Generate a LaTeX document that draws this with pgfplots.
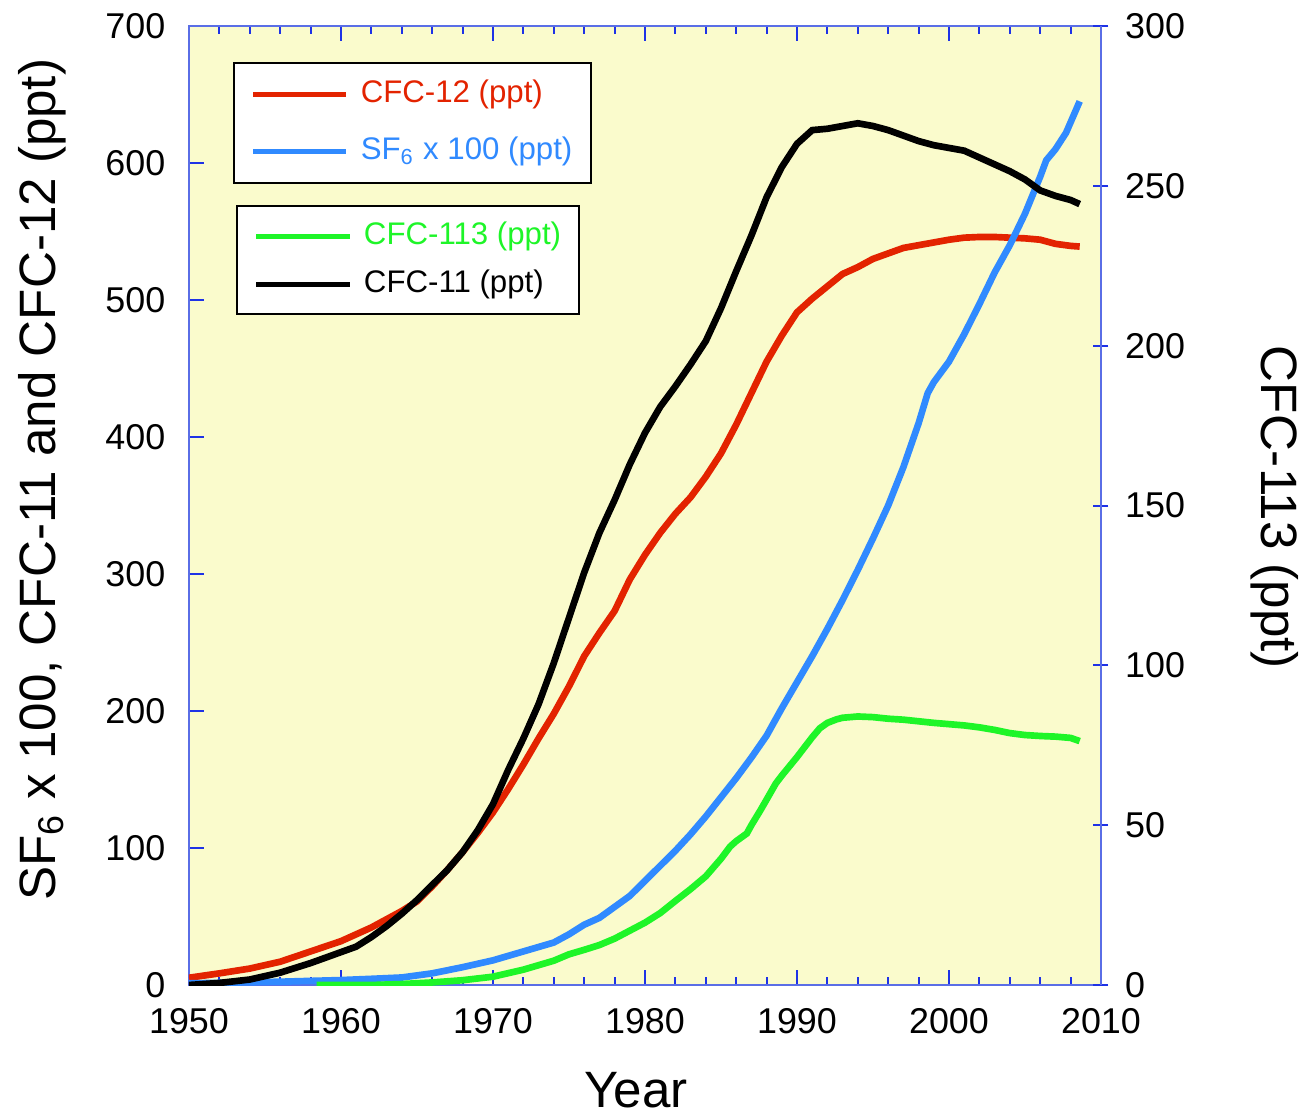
\documentclass[border=0pt]{standalone}
\usepackage{fontspec}
\setmainfont{Liberation Sans}
\usepackage{pgfplots}
\pgfplotsset{compat=1.18}
\definecolor{bgy}{RGB}{250,251,204}
\definecolor{cred}{RGB}{227,35,0}
\definecolor{cblue}{RGB}{48,138,255}
\definecolor{cgreen}{RGB}{30,245,40}
\definecolor{tickblue}{RGB}{30,50,230}
\definecolor{spineblue}{RGB}{90,110,230}
\pgfplotsset{
  common/.style={
    scale only axis, width=273.6bp, height=287.7bp,
    xmin=1950, xmax=2010,
    tick align=inside,
    major tick length=4.5bp, minor tick length=2.4bp,
    tick style={draw=tickblue, line width=0.6bp},
    axis line style={draw=spineblue, line width=0.8bp},
    tick label style={font=\fontsize{10.8}{12}\selectfont},
    /pgf/number format/assume math mode=true,
    label style={font=\fontsize{15.4}{17}\selectfont},
    legend image code/.code={\draw[##1, line width=1.6bp] (0bp,0bp) -- (28bp,0bp);},
  }
}
\begin{document}
\begin{tikzpicture}
\begin{axis}[common,
  ymin=0, ymax=700,
  xtick={1950,1960,...,2010}, minor x tick num=4,
  ytick={0,100,...,700},
  ytick pos=left, xtick pos=both,
  scaled x ticks=false,
  x tick label style={/pgf/number format/1000 sep=, yshift=-3.6bp},
  y tick label style={xshift=-3.6bp},
  axis background/.style={fill=bgy},
  xlabel={Year},
  ylabel={SF\textsubscript{6} x 100, CFC-11 and CFC-12 (ppt)},
  xlabel style={at={(axis description cs:0.49,-0.1095)}, anchor=center, font=\fontsize{15.4}{17}\selectfont},
  ylabel style={at={(axis description cs:-0.161,0.527)}, anchor=center, font=\fontsize{15.4}{17}\selectfont},
  legend style={at={(axis description cs:0.048,0.9625)}, anchor=north west,
    draw=black, line width=0.6bp, fill=white,
    font=\fontsize{9.4}{11}\selectfont,
    inner xsep=5bp, inner ysep=4.5bp, row sep=7bp, column sep=3bp,
    nodes={inner sep=0.5bp, text height=7bp, text depth=2bp},
    cells={anchor=west}},
]
\addplot[cred, line width=2bp] coordinates {
(1950,5.3) (1952,8.5) (1954,12) (1956,17) (1958,24.5) (1960,32) (1962,42) (1964,54) (1965,61) (1966,72) (1967,84) (1968,97) (1969,111) (1970,126) (1971,143) (1972,161) (1973,180) (1974,198) (1975,218) (1976,240) (1977,257) (1978,273) (1979,296) (1980,314) (1981,330) (1982,344) (1983,356) (1984,371) (1985,388) (1986,409) (1987,432) (1988,455) (1989,474) (1990,491) (1991,501) (1992,510) (1993,519) (1994,524) (1995,530) (1996,534) (1997,538) (1998,540) (1999,542) (2000,544) (2001,545.5) (2002,546) (2003,546) (2004,545.5) (2005,545) (2006,544) (2007,541) (2008,539.5) (2008.6,539)
};
\addlegendentry{\textcolor{cred}{CFC-12 (ppt)}}
\addplot[cblue, line width=2bp] coordinates {
(1950,1.2) (1956,2.4) (1960,3.6) (1962,4.5) (1964,5.5) (1966,8.5) (1968,13) (1970,18) (1972,24.5) (1974,31) (1975,37) (1976,44) (1977,49) (1978,57) (1979,65) (1980,76) (1981,87) (1982,98) (1983,110) (1984,123) (1985,137) (1986,151) (1987,166) (1988,182) (1989,202) (1990,221) (1991,240) (1992,260) (1993,281) (1994,303) (1995,326) (1996,350) (1997,378) (1998,410) (1998.6,432) (1999,440) (2000,455) (2001,475) (2002,497) (2003,520) (2004,540) (2005,563) (2006,590) (2006.4,602) (2007,610) (2007.7,622) (2008.6,645)
};
\addlegendentry{\textcolor{cblue}{SF\textsubscript{6} x 100 (ppt)}}
\addplot[black, line width=2bp] coordinates {
(1950,0) (1952,1.5) (1954,4) (1956,9) (1958,16) (1960,24) (1961,28) (1962,35) (1963,43) (1964,52) (1965,62) (1966,73) (1967,84) (1968,97) (1969,113) (1970,132) (1971,157) (1972,180) (1973,205) (1974,235) (1975,268) (1976,301) (1977,330) (1978,354) (1979,380) (1980,403) (1981,422) (1982,437) (1983,453) (1984,470) (1985,494) (1986,521) (1987,547) (1988,575) (1989,597) (1990,614) (1991,624) (1992,625) (1993,627) (1994,629) (1995,627) (1996,624) (1997,620) (1998,616) (1999,613) (2000,611) (2001,609) (2002,604) (2003,599) (2004,594) (2005,588) (2006,580) (2007,576) (2008,573) (2008.6,570)
};
\end{axis}
\begin{axis}[common,
  ymin=0, ymax=300,
  axis x line=none, axis y line=right,
  y axis line style={-},
  ytick={0,50,...,300}, yticklabel pos=right,
  y tick label style={xshift=1.5bp},
  ylabel={CFC-113 (ppt)},
  ylabel style={at={(axis description cs:1.191,0.498)}, anchor=center, rotate=180, font=\fontsize{15.4}{17}\selectfont},
  legend style={at={(axis description cs:0.0515,0.813)}, anchor=north west,
    draw=black, line width=0.6bp, fill=white,
    font=\fontsize{9.4}{11}\selectfont,
    inner xsep=5bp, inner ysep=4bp, row sep=4.4bp, column sep=3bp,
    nodes={inner sep=0.5bp, text height=7bp, text depth=2bp},
    cells={anchor=west}},
]
\addplot[cgreen, line width=2bp] coordinates {
(1958.4,0) (1962,0) (1964,0.3) (1966,0.8) (1968,1.5) (1970,2.6) (1972,4.8) (1974,7.6) (1975,9.6) (1976,11) (1977,12.5) (1978,14.5) (1979,17) (1980,19.5) (1981,22.5) (1982,26.3) (1983,30) (1984,34) (1985,39.5) (1985.6,43.3) (1986,45) (1986.7,47.4) (1987,50) (1987.6,54.7) (1988,58) (1988.6,63) (1989,65.5) (1990,71.3) (1991,77.5) (1991.5,80.3) (1992,82) (1992.6,83.1) (1993,83.6) (1994,84) (1995,83.8) (1996,83.3) (1997,83) (1998,82.5) (1999,82) (2000,81.6) (2001,81.2) (2002,80.6) (2003,79.8) (2004,78.8) (2005,78.2) (2006,77.9) (2007,77.7) (2008,77.3) (2008.6,76.3)
};
\addlegendentry{\textcolor{cgreen}{CFC-113 (ppt)}}
\addlegendimage{black, line width=2bp}
\addlegendentry{CFC-11 (ppt)}
\end{axis}
\pgfresetboundingbox
\path[use as bounding box] (-56.7bp,-39bp) rectangle (333.6bp,295.5bp);
\end{tikzpicture}
\end{document}
